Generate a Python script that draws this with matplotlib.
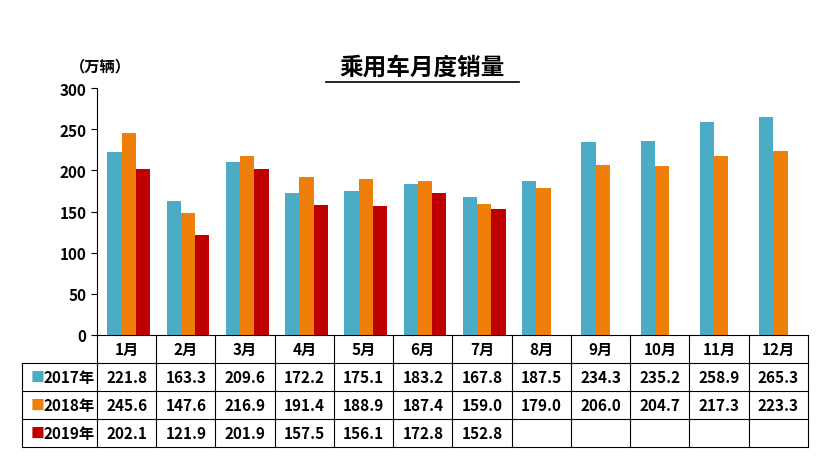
import matplotlib
matplotlib.use('Agg')
import matplotlib.pyplot as plt
import numpy as np

plt.rcParams['font.family'] = 'Noto Sans CJK SC'
plt.rcParams['font.weight'] = 'bold'

months = ['1月', '2月', '3月', '4月', '5月', '6月', '7月', '8月', '9月', '10月', '11月', '12月']
years = ['2017年', '2018年', '2019年']
s2017 = [221.8, 163.3, 209.6, 172.2, 175.1, 183.2, 167.8, 187.5, 234.3, 235.2, 258.9, 265.3]
s2018 = [245.6, 147.6, 216.9, 191.4, 188.9, 187.4, 159.0, 179.0, 206.0, 204.7, 217.3, 223.3]
s2019 = [202.1, 121.9, 201.9, 157.5, 156.1, 172.8, 152.8]
colors = ['#4BACC6', '#F07F09', '#C00000']

fig = plt.figure(figsize=(8.2, 4.64), dpi=100)
ax = fig.add_axes([97/820, 1-336/464, 711/820, 247/464])

x = np.arange(len(months))
w = 0.24
for k, s in enumerate([s2017, s2018, s2019]):
    ax.bar(x[:len(s)] + (k - 0.85) * w, s, w, color=colors[k])

ax.set_xlim(-0.5, len(months) - 0.5)
ax.set_ylim(0, 300)
ax.set_yticks(range(0, 301, 50))
ax.tick_params(axis='y', labelsize=11, direction='out', length=4)
ax.set_xticks([])
for sp in ['top', 'right']:
    ax.spines[sp].set_visible(False)
ax.spines['bottom'].set_visible(False)

# data table below the axes
tr = ax.transAxes
rowh = 28 / 247
left = -(97 - 22) / 711
cw = 1 / len(months)
nrow = 4
lk = dict(color='black', lw=0.8, transform=tr, clip_on=False)
ax.plot([0, 1], [0, 0], **lk)
for r in range(1, nrow + 1):
    ax.plot([left, 1], [-r * rowh, -r * rowh], **lk)
ax.plot([left, left], [-rowh, -nrow * rowh], **lk)
for c in range(len(months) + 1):
    ax.plot([c * cw, c * cw], [0, -nrow * rowh], **lk)
for c, m in enumerate(months):
    ax.text((c + 0.5) * cw, -0.5 * rowh, m, transform=tr, ha='center', va='center', fontsize=11)
for r, (yr, s) in enumerate(zip(years, [s2017, s2018, s2019])):
    yy = -(r + 1.5) * rowh
    ax.text(left + 0.012, yy, '■', color=colors[r], transform=tr, ha='left', va='center', fontsize=10)
    ax.text(left + 0.03, yy, yr, transform=tr, ha='left', va='center', fontsize=11)
    for c, v in enumerate(s):
        ax.text((c + 0.5) * cw, yy, f'{v:.1f}', transform=tr, ha='center', va='center', fontsize=11)

fig.text(422/820, 1-68/464, '乘用车月度销量', ha='center', va='center', fontsize=17)
fig.add_artist(plt.Line2D([326/820, 519/820], [1-83/464, 1-83/464], color='black', lw=1.2))
fig.text(100/820, 1-66/464, '（万辆）', ha='center', va='center', fontsize=11)

fig.savefig('out.png')
